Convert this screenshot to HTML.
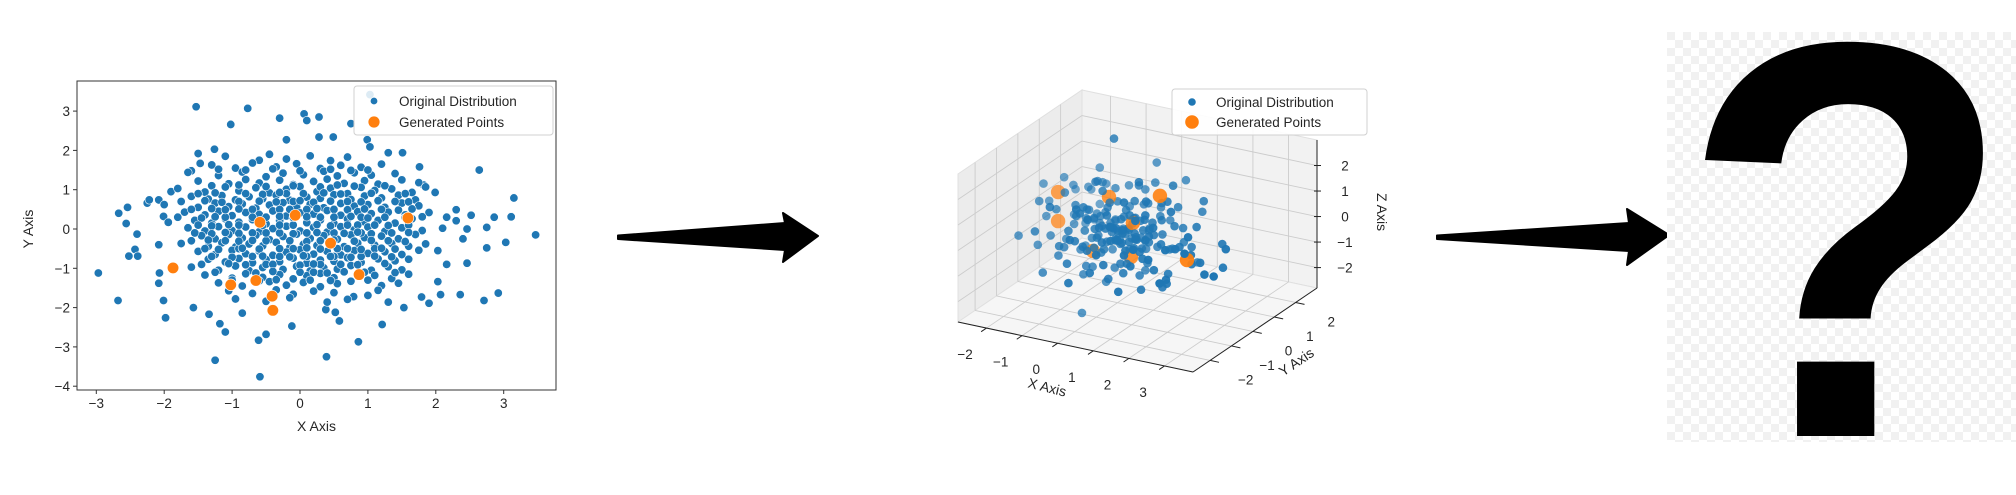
<!DOCTYPE html>
<html><head><meta charset="utf-8"><style>
html,body{margin:0;padding:0;background:#fff;overflow:hidden;width:2016px;height:495px;}
svg{display:block;font-family:"Liberation Sans",sans-serif;}
</style></head><body>
<svg id="root" width="2016" height="495" viewBox="0 0 2016 495">
<defs>
<pattern id="checker" x="1667" y="32" width="16" height="16" patternUnits="userSpaceOnUse">
<rect width="16" height="16" fill="#ffffff"/><rect width="8" height="8" fill="#f1f1f1"/><rect x="8" y="8" width="8" height="8" fill="#f1f1f1"/>
</pattern>
</defs>
<g id="chart2d"></g>
<polygon fill="#000" stroke="#000" stroke-width="2" stroke-linejoin="round" points="618,235.5 785,223 783,213 818,236 783,262 785,250 618,239"/>
<g id="chart3d"></g>
<polygon fill="#000" stroke="#000" stroke-width="2" stroke-linejoin="round" points="1437,235.5 1629,223 1627,209 1669,235 1627,265 1629,251 1437,239"/>
<g>
<rect x="1667" y="32" width="349" height="410" fill="url(#checker)"/>
<text id="qmark" font-family="Liberation Sans, sans-serif" font-weight="bold" font-size="500" fill="#000">?</text>
</g>
</svg>
<script>
// ---------- 2D chart data ----------
const xTicks2d = [-3,-2,-1,0,1,2,3];
const yTicks2d = [-4,-3,-2,-1,0,1,2,3];
const origPoints = [
[-2.97,-1.12],[-2.68,-1.82],[-2.67,0.4],[-2.56,0.14],[-2.54,0.55],[-2.52,-0.69],[-2.43,-0.52],[-2.4,-0.13],[-2.39,-0.69],[-2.25,0.66],[-2.22,0.74],[-2.08,0.74],[-2.08,-0.4],[-2.07,-1.12],[-2.08,-1.38],[-2.01,-1.82],[-1.98,-2.26],[-2.01,0.32],[-1.94,0.17],[-1.9,0.95],
[-1.53,3.11],[-1.5,1.92],[-1.47,1.67],[-1.6,1.48],[-1.26,2.03],[-1.02,2.66],[-0.77,3.07],[-0.3,2.82],[-0.2,2.27],[0.06,2.93],[0.1,2.76],[0.28,2.85],[0.28,2.34],[0.49,2.34],[0.75,2.68],[1.03,3.42],[0.99,2.27],[1.03,2.09],[1.3,1.94],[1.51,1.94],[1.76,1.58],
[2.64,1.5],[3.15,0.79],[3.11,0.31],[3.47,-0.15],[3.03,-0.34],[2.92,-1.63],[2.71,-1.82],[2.75,0.04],[2.75,-0.48],[2.86,0.3],[2.52,0.35],[2.46,0.0],[2.46,-0.87],[2.4,-0.25],[2.36,-1.67],[2.3,0.49],[2.3,0.21],[2.16,0.3],[2.16,-0.9],[2.03,-0.55],[2.03,-1.34],[2.07,-1.67],[1.9,-1.89],[1.79,-1.73],[1.99,0.93],[1.82,1.12],
[1.53,-2.0],[1.21,-2.43],[0.86,-2.87],[0.39,-3.25],[-0.59,-3.76],[-1.25,-3.34],[-1.1,-2.62],[-1.18,-2.41],[-1.34,-2.17],[-1.57,-2.0],[-0.85,-2.14],[-0.61,-2.83],[-0.5,-2.68],[-0.12,-2.47],[0.38,-2.05],[0.58,-2.34],[0.52,-2.12],[1.3,-1.86],[1.0,-1.69],[0.79,-1.72],
[-1.1,1.85],[-0.6,1.75],[-0.45,1.9],[-0.2,1.78],[0.15,1.86],[0.45,1.74],[0.7,1.83],
[-1.3,1.63],[-0.95,1.55],[-0.7,1.68],[-0.35,1.58],[-0.05,1.66],[0.3,1.54],[0.6,1.62],[0.9,1.57],[1.2,1.65],
[-1.65,1.44],[-1.2,1.36],[-0.85,1.45],[-0.5,1.33],[-0.25,1.42],[0.05,1.38],[0.35,1.47],[0.55,1.35],[0.8,1.43],[1.05,1.37],[1.4,1.41],
[-1.5,1.22],[-1.05,1.15],[-0.8,1.26],[-0.6,1.17],[-0.3,1.24],[-0.1,1.13],[0.2,1.21],[0.4,1.27],[0.65,1.16],[0.95,1.23],[1.15,1.14],[1.5,1.25],[1.75,1.18],
[-1.8,1.03],[-1.4,0.94],[-1.1,1.07],[-0.9,0.97],[-0.65,1.05],[-0.45,0.92],[-0.2,1.01],[0.0,1.08],[0.25,0.95],[0.45,1.04],[0.7,0.9],[0.9,1.06],[1.1,0.98],[1.35,1.02],[1.65,0.93],[1.85,1.07],
[-1.6,0.83],[-1.35,0.76],[-1.15,0.85],[-0.95,0.74],[-0.75,0.82],[-0.55,0.77],[-0.35,0.86],[-0.15,0.73],[0.1,0.81],[0.3,0.78],[0.5,0.87],[0.75,0.75],[0.95,0.84],[1.2,0.79],[1.45,0.86],[1.7,0.74],
[-2.0,0.62],[-1.5,0.55],[-1.25,0.66],[-1.05,0.57],[-0.85,0.64],[-0.65,0.53],[-0.45,0.61],[-0.25,0.67],[-0.05,0.56],[0.15,0.63],[0.35,0.54],[0.6,0.65],[0.8,0.58],[1.0,0.62],[1.25,0.55],[1.5,0.66],[1.75,0.59],
[-1.7,0.43],[-1.4,0.36],[-1.2,0.45],[-1.0,0.34],[-0.8,0.42],[-0.6,0.37],[-0.4,0.46],[-0.2,0.33],[0.0,0.41],[0.2,0.38],[0.4,0.47],[0.6,0.35],[0.85,0.44],[1.05,0.39],[1.3,0.43],[1.55,0.36],[1.9,0.42],
[-1.55,0.22],[-1.3,0.15],[-1.1,0.26],[-0.9,0.17],[-0.7,0.24],[-0.5,0.13],[-0.3,0.21],[-0.1,0.27],[0.1,0.16],[0.3,0.23],[0.5,0.14],[0.7,0.25],[0.95,0.18],[1.15,0.22],[1.4,0.15],[1.65,0.26],
[-1.65,0.03],[-1.4,-0.05],[-1.2,0.06],[-1.0,-0.04],[-0.8,0.05],[-0.6,-0.07],[-0.4,0.01],[-0.2,0.07],[0.0,-0.05],[0.2,0.04],[0.4,-0.08],[0.6,0.06],[0.8,-0.02],[1.0,0.05],[1.25,-0.06],[1.5,0.03],[1.8,-0.04],[2.1,0.02],
[-1.45,-0.17],[-1.25,-0.25],[-1.05,-0.14],[-0.85,-0.23],[-0.65,-0.16],[-0.45,-0.27],[-0.25,-0.19],[-0.05,-0.13],[0.15,-0.24],[0.35,-0.17],[0.55,-0.26],[0.75,-0.15],[0.95,-0.22],[1.2,-0.18],[1.45,-0.25],[1.7,-0.14],
[-1.75,-0.37],[-1.35,-0.44],[-1.15,-0.35],[-0.95,-0.46],[-0.75,-0.38],[-0.55,-0.43],[-0.35,-0.34],[-0.15,-0.47],[0.05,-0.39],[0.25,-0.42],[0.45,-0.33],[0.65,-0.45],[0.85,-0.36],[1.1,-0.41],[1.35,-0.37],[1.6,-0.44],[1.85,-0.38],
[-1.5,-0.57],[-1.25,-0.65],[-1.0,-0.54],[-0.8,-0.63],[-0.6,-0.56],[-0.4,-0.67],[-0.2,-0.59],[0.0,-0.53],[0.2,-0.64],[0.4,-0.57],[0.6,-0.66],[0.8,-0.55],[1.0,-0.62],[1.25,-0.58],[1.5,-0.65],[1.75,-0.54],
[-1.35,-0.77],[-1.1,-0.84],[-0.9,-0.75],[-0.7,-0.86],[-0.5,-0.78],[-0.3,-0.83],[-0.1,-0.74],[0.1,-0.87],[0.3,-0.79],[0.5,-0.82],[0.7,-0.73],[0.9,-0.85],[1.15,-0.76],[1.4,-0.81],[1.6,-0.77],
[-1.6,-0.97],[-1.2,-1.05],[-0.95,-0.94],[-0.75,-1.06],[-0.55,-0.98],[-0.25,-1.03],[-0.05,-0.95],[0.15,-1.07],[0.35,-0.99],[0.55,-1.02],[0.75,-0.93],[1.05,-1.05],[1.3,-0.96],[1.5,-1.04],
[-1.4,-1.17],[-1.0,-1.25],[-0.8,-1.14],[-0.55,-1.23],[-0.3,-1.16],[-0.1,-1.27],[0.1,-1.19],[0.3,-1.13],[0.5,-1.24],[1.1,-1.18],[1.35,-1.26],[1.6,-1.15],
[-1.2,-1.37],[-0.85,-1.45],[-0.45,-1.34],[-0.2,-1.43],[0.05,-1.36],[0.3,-1.47],[0.55,-1.39],[0.75,-1.33],[1.2,-1.44],[1.45,-1.38],
[-1.05,-1.57],[-0.7,-1.64],[-0.35,-1.55],[-0.1,-1.66],[0.2,-1.58],[0.5,-1.62],[1.15,-1.56],
[-0.95,-1.78],[-0.5,-1.84],[-0.15,-1.75],[0.4,-1.86],[0.7,-1.79],
[-0.9,0.7],[-0.7,0.5],[-0.5,0.3],[-0.3,0.5],[-0.1,0.7],[0.1,0.5],[0.3,0.3],[0.5,0.5],[0.7,0.7],[0.9,0.3],[-0.9,0.1],[-0.7,-0.1],[-0.5,-0.3],[-0.3,-0.1],[-0.1,0.1],[0.1,-0.1],[0.3,-0.3],[0.5,-0.1],[0.7,0.1],[0.9,-0.1],[-0.9,-0.5],[-0.7,-0.7],[-0.5,-0.9],[-0.3,-0.7],[-0.1,-0.5],[0.1,-0.7],[0.3,-0.9],[0.5,-0.7],[0.7,-0.5],[0.9,-0.7],[-1.1,0.3],[1.1,0.1],[-1.1,-0.3],[1.1,-0.5],[-0.2,0.9],[0.2,-1.1],
[-1.2,1.52],[-0.8,1.5],[-0.4,1.53],[0.0,1.48],[0.45,1.52],[0.75,1.49],[1.0,1.5],
[-1.3,1.1],[-0.9,1.12],[-0.5,1.08],[-0.1,1.1],[0.3,1.07],[0.55,1.12],[0.8,1.09],[1.25,1.1],
[-1.5,0.9],[-1.25,0.92],[-0.8,0.9],[-0.55,0.88],[-0.3,0.93],[0.05,0.9],[0.35,0.92],[0.6,0.89],[1.05,0.91],[1.55,0.9],
[-1.75,0.7],[-1.4,0.72],[-1.15,0.68],[-0.6,0.71],[-0.35,0.69],[0.0,0.72],[0.2,0.68],[0.45,0.71],[0.9,0.69],[1.15,0.72],[1.4,0.7],[1.6,0.69],
[-1.6,0.5],[-1.3,0.52],[-1.1,0.49],[-0.9,0.51],[-0.15,0.5],[0.25,0.52],[0.7,0.49],[0.95,0.51],[1.2,0.5],[1.45,0.48],[1.65,0.51],
[-1.8,0.3],[-1.45,0.28],[-1.25,0.31],[-0.7,0.3],[-0.3,0.32],[-0.1,0.29],[0.1,0.31],[0.5,0.3],[0.75,0.32],[1.0,0.28],[1.25,0.3],[1.55,0.29],[1.8,0.31],
[-1.5,0.1],[-1.3,0.08],[-1.05,0.11],[-0.55,0.09],[-0.3,0.1],[0.25,0.11],[0.45,0.08],[0.85,0.1],[1.3,0.09],[1.6,0.1],
[-1.55,-0.1],[-1.3,-0.12],[-1.1,-0.09],[-0.9,-0.11],[-0.5,-0.1],[-0.1,-0.12],[0.25,-0.09],[0.65,-0.11],[0.85,-0.08],[1.05,-0.12],[1.35,-0.1],[1.6,-0.09],
[-1.6,-0.3],[-1.35,-0.28],[-0.9,-0.31],[-0.7,-0.29],[-0.15,-0.3],[0.1,-0.32],[0.5,-0.28],[0.8,-0.31],[1.05,-0.29],[1.3,-0.3],[1.55,-0.32],
[-1.4,-0.5],[-1.2,-0.52],[-0.85,-0.49],[-0.6,-0.51],[-0.3,-0.5],[0.1,-0.48],[0.3,-0.51],[0.55,-0.5],[0.9,-0.52],[1.2,-0.49],[1.4,-0.51],
[-1.3,-0.7],[-1.0,-0.72],[-0.55,-0.69],[-0.15,-0.71],[0.05,-0.68],[0.45,-0.7],[0.75,-0.72],[1.1,-0.69],[1.35,-0.71],
[-1.45,-0.9],[-1.05,-0.88],[-0.8,-0.91],[-0.4,-0.9],[0.0,-0.92],[0.2,-0.89],[0.6,-0.9],[0.85,-0.91],[1.25,-0.88],
[-1.25,-1.1],[-0.65,-1.12],[-0.4,-1.08],[0.0,-1.1],[0.4,-1.12],[0.65,-1.09],[0.95,-1.1],[1.4,-1.11],
[-1.0,-1.3],[-0.6,-1.32],[-0.35,-1.29],[0.15,-1.3],[0.45,-1.31],[1.0,-1.3]
];
const genPoints = [[-1.87,-0.99],[-1.02,-1.42],[-0.65,-1.31],[-0.59,0.17],[-0.41,-1.71],[-0.4,-2.07],[-0.07,0.35],[0.45,-0.36],[0.87,-1.16],[1.59,0.28]];

// ---------- 3D chart data ----------
const xTicks3d = [-2,-1,0,1,2,3];
const yTicks3d = [-2,-1,0,1,2];
const zTicks3d = [-2,-1,0,1,2];
const orig3d = [
[-2.1,0.3,0.4],[-1.9,-0.5,0.9],[-1.7,0.8,-0.3],[-1.6,-1.2,0.2],[-1.5,0.1,-0.8],[-1.4,1.1,0.6],[-1.3,-0.3,1.3],[-1.2,0.5,-1.2],[-1.1,-0.9,-0.4],[-1.0,0.2,0.1],
[-0.9,1.4,-0.6],[-0.8,-0.6,0.7],[-0.7,0.0,-1.6],[-0.6,0.9,1.0],[-0.5,-1.4,0.3],[-0.4,0.4,-0.2],[-0.3,-0.2,1.6],[-0.2,1.0,-0.9],[-0.1,-0.7,0.5],[0.0,0.1,-0.4],
[0.1,0.6,0.2],[0.2,-1.0,-0.7],[0.3,0.3,1.1],[0.4,-0.4,-1.3],[0.5,1.2,0.4],[0.6,-0.1,-0.1],[0.7,0.7,-0.8],[0.8,-1.1,0.9],[0.9,0.2,0.0],[1.0,-0.5,-0.5],
[1.1,1.0,0.7],[1.2,-0.3,-1.0],[1.3,0.5,0.3],[1.4,-0.9,-0.2],[1.5,0.0,1.2],[1.6,0.8,-0.6],[1.7,-0.6,0.1],[1.9,0.3,-0.9],[2.1,-0.2,0.5],[2.4,0.9,-0.3],
[2.8,0.4,-0.1],[3.0,-0.5,-0.6],[-2.3,-0.8,-0.4],[-1.8,1.6,-1.0],[-0.5,0.3,-2.3],[0.2,1.5,1.9],[-0.3,-1.8,-1.1],[0.9,1.7,1.3],[1.4,-1.6,0.6],[-1.0,-1.5,1.5],
[-0.6,0.2,0.3],[-0.2,-0.3,-0.6],[0.3,0.0,0.2],[0.5,-0.6,0.4],[-0.4,0.7,-0.5],[0.1,0.4,-0.9],[0.7,0.1,0.6],[-0.8,-0.2,-0.1],[0.0,-0.5,0.9],[0.4,0.8,-0.3],
[-0.1,0.2,-0.2],[0.6,0.5,0.0],[-0.5,-0.8,-0.3],[0.2,-0.2,-1.1],[-0.3,0.5,0.8],[0.8,-0.3,-0.4],[-0.7,0.6,0.2],[0.1,-0.9,0.1],[0.5,0.3,-0.7],[-0.2,0.9,0.4],
[0.3,-0.7,0.6],[-0.6,-0.4,0.5],[0.9,0.6,-0.2],[-0.9,0.3,-0.7],[0.0,0.7,-0.1],[0.4,-0.1,0.8],[-0.4,-0.1,-0.9],[0.7,-0.8,-0.1],[-0.1,-0.4,0.3],[0.2,0.9,0.6],
[1.1,0.2,-0.3],[-1.1,0.4,0.3],[0.6,1.0,0.2],[-0.6,-1.0,0.0],[0.3,0.6,-0.5],[-0.3,-0.6,-0.4],[0.8,0.3,0.4],[-0.8,0.0,0.6],[0.1,0.0,0.5],[-0.1,0.3,-0.7],
[0.5,-0.4,-0.9],[-0.5,0.5,-0.1],[0.0,-0.1,-0.3],[0.2,0.2,0.0],[-0.2,0.0,0.1],[0.4,0.4,0.3],[-0.4,-0.4,0.2],[0.6,-0.2,0.2],[-0.6,0.1,-0.4],[0.3,-0.3,-0.2],
[1.2,-0.7,0.4],[-1.2,0.9,-0.4],[1.0,0.9,-0.9],[-1.0,-0.3,0.9],[0.9,-0.2,1.0],[-0.9,0.8,1.2],[1.3,0.2,-1.4],[-1.3,-0.6,-1.0],[0.7,1.3,-0.1],[-0.7,-1.2,-0.8],
[1.6,-0.4,-1.2],[-1.6,0.6,1.0],[0.4,1.1,1.4],[-0.4,-1.1,1.2],[1.8,0.7,0.3],[-1.7,-0.3,-0.5],[0.8,-1.3,-1.4],[-0.8,1.3,-1.3],[2.0,0.1,-0.4],[-2.0,0.0,0.0],
[0.0,1.3,0.9],[0.0,-1.3,-0.9],[1.1,-1.0,1.3],[-1.1,1.0,1.6],[2.3,-0.7,0.2],[-1.5,-1.0,-1.5],[0.5,0.2,-1.7],[-0.5,-0.2,1.9],[1.7,1.2,1.0],[-1.4,1.5,-0.2],
[2.6,0.6,-1.0],[1.4,1.4,-1.6],[-0.2,-1.6,1.7],[0.6,0.0,2.1],[-0.9,-0.1,-1.9],[1.9,-1.2,-0.8],[0.3,-1.5,0.0],[-1.9,1.2,0.4],[1.2,0.6,1.8],[-0.3,1.8,-1.5],
[-0.5,0.6,-1.2],[0.1,-0.6,-1.5],[0.6,0.4,-1.3],[-0.2,0.2,-1.6],[0.9,-0.4,-1.8],[-0.7,-0.3,-1.4],[1.2,0.1,-1.9],[0.3,0.8,-1.9],[-1.1,0.1,-1.1],[1.5,-0.2,-1.5],
[0.0,0.4,0.6],[0.2,-0.4,0.4],[-0.4,0.2,0.7],[0.5,0.6,0.9],[-0.6,-0.6,1.1],[0.8,0.0,1.4],[-0.1,-0.2,1.2],[0.3,0.5,1.6],[-0.8,0.4,1.5],[0.6,-0.7,1.7],
[1.3,0.9,0.0],[1.0,-0.2,0.2],[1.5,0.4,-0.4],[1.8,-0.3,0.0],[1.2,1.1,-0.7],[0.9,-0.9,-0.6],[2.2,0.2,-0.7],[2.5,-0.1,-0.9],[1.6,1.3,0.5],[0.7,0.9,0.8],
[-0.3,0.0,-0.5],[0.1,0.2,-0.2],[-0.1,-0.1,0.0],[0.4,0.1,-0.6],[-0.5,0.1,0.0],[0.2,0.5,0.3],[-0.2,0.6,-0.3],[0.5,-0.3,-0.1],[0.0,0.3,0.4],[-0.6,-0.1,0.4],
[0.7,0.3,-0.4],[-0.3,0.4,0.1],[0.3,-0.5,0.0],[0.1,0.7,-0.6],[-0.4,-0.3,-0.2],[0.6,0.2,0.1],[0.8,-0.5,0.2],[-0.8,0.5,-0.2],[1.0,0.4,0.5],[-1.0,0.7,0.0],
[-1.4,0.3,-0.3],[-1.3,0.8,0.9],[-1.6,-0.2,0.5],[-1.8,0.5,1.3],[-2.2,0.2,1.1],[-1.2,-0.5,-0.7],[-0.9,-0.8,0.2],[-1.5,1.0,-0.7],[-2.0,-0.4,-0.9],[-1.1,1.3,0.8],
[0.4,-1.0,0.3],[-0.2,-1.1,-0.2],[0.9,-1.2,0.0],[1.3,-0.5,0.8],[0.2,1.0,-1.2],[-0.6,0.9,-1.0],[0.8,1.1,-1.1],[1.1,0.5,1.2],[-0.4,1.2,1.0],[0.5,-1.2,1.0],
[-1.0,0.0,-3.5],[-0.1,0.0,3.6]
];
const gen3d = [[-1.67,0,1.04],[-1.67,0,-0.1],[-0.24,0,1.27],[0.43,0,0.45],[1.19,0,1.74],[-0.69,0,-0.98],[0.38,0,-0.9],[1.95,0,-0.55]];

const NS='http://www.w3.org/2000/svg';
function mk(tag, attrs, parent){const e=document.createElementNS(NS,tag);for(const k in attrs)e.setAttribute(k,attrs[k]);parent.appendChild(e);return e;}
function fmt(v){return v<0?'\u2212'+Math.abs(v):String(v);}

// ---------- 2D chart ----------
(function(){
const g=document.getElementById('chart2d');
const L=77,R=556,T=81,B=390;
const X0=300,XS=67.9,Y0=229,YS=39.3;
const sx=v=>X0+v*XS, sy=v=>Y0-v*YS;
const frame=mk('rect',{x:L,y:T,width:R-L,height:B-T,fill:'#fff',stroke:'#333',"stroke-width":1},g);


xTicks2d.forEach(v=>{
  const t=mk('line',{x1:sx(v),x2:sx(v),y1:B,y2:B+4,stroke:'#333'},g);
  
  
  const l=mk('text',{x:sx(v),y:B+18,"font-size":13.5,fill:'#262626',"text-anchor":'middle'},g);l.textContent=fmt(v);
  
  
});
yTicks2d.forEach(v=>{
  const t=mk('line',{x1:L-4,x2:L,y1:sy(v),y2:sy(v),stroke:'#333'},g);
  
  
  const l=mk('text',{x:L-7,y:sy(v)+5,"font-size":13.5,fill:'#262626',"text-anchor":'end'},g);l.textContent=fmt(v);
  
  
});
const pts=mk('g',{},g);


origPoints.forEach(p=>{
  const c=mk('circle',{cx:sx(p[0]),cy:sy(p[1]),r:4.2,fill:'#1f77b4',stroke:'#fff',"stroke-width":0.6},pts);
  
  
});
const gp=mk('g',{},g);


genPoints.forEach(p=>{
  const c=mk('circle',{cx:sx(p[0]),cy:sy(p[1]),r:5.8,fill:'#ff7f0e',stroke:'#fff',"stroke-width":0.7},gp);
  
  
});
const xl=mk('text',{x:(L+R)/2,y:431,"font-size":14,fill:'#262626',"text-anchor":'middle'},g);xl.textContent='X Axis';


const yl=mk('text',{x:0,y:0,"font-size":14,fill:'#262626',"text-anchor":'middle',transform:'translate(33,229) rotate(-90)'},g);yl.textContent='Y Axis';


const lg=mk('g',{},g);


mk('rect',{x:354,y:86,width:199,height:49,rx:3,fill:'#fff',"fill-opacity":0.85,stroke:'#d0d0d0'},lg);
const d1=mk('circle',{cx:374,cy:101,r:3.7,fill:'#1f77b4',stroke:'#fff',"stroke-width":0.6},lg);


const t1=mk('text',{x:399,y:106,"font-size":13.5,fill:'#262626'},lg);t1.textContent='Original Distribution';


const d2=mk('circle',{cx:374,cy:122,r:5.6,fill:'#ff7f0e'},lg);


const t2=mk('text',{x:399,y:127,"font-size":13.5,fill:'#262626'},lg);t2.textContent='Generated Points';


})();

// ---------- 3D chart ----------
(function(){
const g=document.getElementById('chart3d');
const xmin=-2.8,xr=6.6,ymin=-2.8,yr=5.8,zmin=-2.8,zr=5.8;
const xmax=xmin+xr,ymax=ymin+yr,zmax=zmin+zr;
function P(x,y,z){const fx=(x-xmin)/xr,fy=(y-ymin)/yr,fz=(z-zmin)/zr;return [958+fx*235+fy*124, 322+fx*50-fy*84-fz*148];}
function poly(arr,attrs,name){const s=arr.map(p=>P(...p).join(',')).join(' ');const e=mk('polygon',Object.assign({points:s},attrs),g);return e;}
function seg(a,b,attrs,name){const p=P(...a),q=P(...b);const e=mk('line',Object.assign({x1:p[0],y1:p[1],x2:q[0],y2:q[1]},attrs),g);return e;}
poly([[xmin,ymin,zmin],[xmin,ymax,zmin],[xmin,ymax,zmax],[xmin,ymin,zmax]],{fill:'#ececec',stroke:'#e0e0e0'},'left-pane');
poly([[xmin,ymax,zmin],[xmax,ymax,zmin],[xmax,ymax,zmax],[xmin,ymax,zmax]],{fill:'#f2f2f2',stroke:'#e0e0e0'},'back-pane');
poly([[xmin,ymin,zmin],[xmax,ymin,zmin],[xmax,ymax,zmin],[xmin,ymax,zmin]],{fill:'#f6f6f6',stroke:'#e0e0e0'},'floor-pane');
const gs={stroke:'#cccccc',"stroke-width":0.9};
xTicks3d.forEach(v=>{seg([v,ymin,zmin],[v,ymax,zmin],gs,'x-grid-line');seg([v,ymax,zmin],[v,ymax,zmax],gs,'x-grid-line');});
yTicks3d.forEach(v=>{seg([xmin,v,zmin],[xmax,v,zmin],gs,'y-grid-line');seg([xmin,v,zmin],[xmin,v,zmax],gs,'y-grid-line');});
zTicks3d.forEach(v=>{seg([xmin,ymin,v],[xmin,ymax,v],gs,'z-grid-line');seg([xmin,ymax,v],[xmax,ymax,v],gs,'z-grid-line');});
const ax={stroke:'#222',"stroke-width":1};
seg([xmin,ymin,zmin],[xmax,ymin,zmin],ax,'x-axis-line');
seg([xmax,ymin,zmin],[xmax,ymax,zmin],ax,'y-axis-line');
seg([xmax,ymax,zmin],[xmax,ymax,zmax],ax,'z-axis-line');
xTicks3d.forEach(v=>{
  seg([v,ymin,zmin],[v,ymin-0.25,zmin],ax,'x-tick');
  const p=P(v,ymin-1.0,zmin-0.45);
  const t=mk('text',{x:p[0],y:p[1]+5,"font-size":13.5,fill:'#262626',"text-anchor":'middle'},g);t.textContent=fmt(v);
  
  
});
yTicks3d.forEach(v=>{
  seg([xmax,v,zmin],[xmax+0.25,v,zmin],ax,'y-tick');
  const p=P(xmax+1.0,v,zmin-0.45);
  const t=mk('text',{x:p[0],y:p[1]+5,"font-size":13.5,fill:'#262626',"text-anchor":'middle'},g);t.textContent=fmt(v);
  
  
});
zTicks3d.forEach(v=>{
  const p=P(xmax,ymax,v);
  const tk=mk('line',{x1:p[0]-3,x2:p[0]+4,y1:p[1],y2:p[1],stroke:'#222'},g);
  
  
  const t=mk('text',{x:p[0]+28,y:p[1]+5,"font-size":13.5,fill:'#262626',"text-anchor":'middle'},g);t.textContent=fmt(v);
  
  
});
const all=[];
orig3d.forEach(p=>all.push({p:p,o:true}));
gen3d.forEach(p=>all.push({p:p,o:false}));
all.forEach(a=>{a.d=(a.p[0]-xmin)/xr+(ymax-a.p[1])/yr;});
all.sort((a,b)=>a.d-b.d);
const pg=mk('g',{},g);


all.forEach(a=>{
  const q=P(...a.p);
  const alpha=Math.min(1,0.42+0.42*a.d);
  const c=mk('circle',{cx:q[0],cy:q[1],r:a.o?4.3:7.2,fill:a.o?'#1f77b4':'#ff7f0e',"fill-opacity":alpha},pg);
  
  
});
const xl=mk('text',{x:0,y:0,"font-size":14,fill:'#262626',"text-anchor":'middle',transform:'translate(1046,392) rotate(14)'},g);xl.textContent='X Axis';


const yl=mk('text',{x:0,y:0,"font-size":14,fill:'#262626',"text-anchor":'middle',transform:'translate(1299,366) rotate(-34)'},g);yl.textContent='Y Axis';


const zl=mk('text',{x:0,y:0,"font-size":14,fill:'#262626',"text-anchor":'middle',transform:'translate(1377,212) rotate(90)'},g);zl.textContent='Z Axis';


const lg=mk('g',{},g);


mk('rect',{x:1172,y:89,width:195,height:46,rx:3,fill:'#fff',"fill-opacity":0.9,stroke:'#d0d0d0'},lg);
const d1=mk('circle',{cx:1192,cy:102,r:3.8,fill:'#1f77b4'},lg);


const t1=mk('text',{x:1216,y:107,"font-size":13.5,fill:'#262626'},lg);t1.textContent='Original Distribution';


const d2=mk('circle',{cx:1192,cy:122,r:6.8,fill:'#ff7f0e'},lg);


const t2=mk('text',{x:1216,y:127,"font-size":13.5,fill:'#262626'},lg);t2.textContent='Generated Points';


})();

// ---------- question mark fit ----------
(function(){
const q=document.getElementById('qmark');
const ctx=document.createElement('canvas').getContext('2d');
ctx.font='bold 500px "Liberation Sans"';
const m=ctx.measureText('?');
let l=m.actualBoundingBoxLeft,r=m.actualBoundingBoxRight,a=m.actualBoundingBoxAscent,d=m.actualBoundingBoxDescent;
if(!(r+l>0)){l=-30;r=275;a=365;d=0;}
const sx=291/(l+r), sy=397/(a+d);
q.setAttribute('transform','translate('+(1697+l*sx)+','+(436-d*sy)+') scale('+sx+','+sy+')');
})();
</script>
</body></html>
